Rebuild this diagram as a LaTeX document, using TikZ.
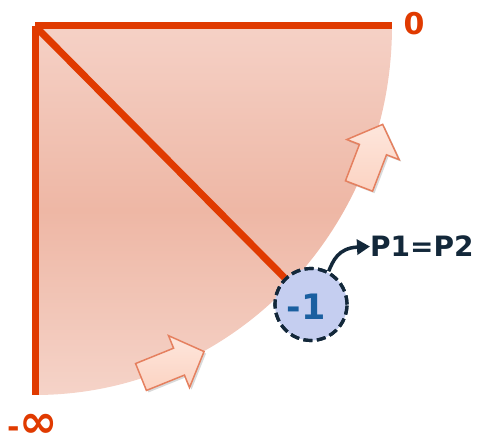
\documentclass[tikz,border=0pt]{standalone}
\usepackage{fontspec}
\setmainfont{DejaVu Sans}
\usetikzlibrary{shadows,arrows.meta}
\definecolor{lineor}{HTML}{E03A00}
\definecolor{fillA}{HTML}{F5D1C6}
\definecolor{fillB}{HTML}{EEB7A5}
\definecolor{fillC}{HTML}{F5D3C8}
\definecolor{circfill}{HTML}{C5CEF0}
\definecolor{circline}{HTML}{13283A}
\definecolor{numblue}{HTML}{1A5FA0}
\definecolor{arrline}{HTML}{E5805F}
\definecolor{arrA}{HTML}{FCD3C2}
\definecolor{arrB}{HTML}{FDE6DC}
\tikzset{
  axis/.style={draw=lineor,line width=7pt},
  blockarrow/.style={draw=arrline,line width=1.5pt,line join=miter,top color=arrB,bottom color=arrA,
    drop shadow={shadow xshift=2pt,shadow yshift=-2pt,opacity=0.25,fill=black!60}},
  labeltxt/.style={font=\bfseries,inner sep=0pt},
  dashcirc/.style={circle,minimum size=72pt,inner sep=0pt,draw=circline,line width=3.2pt,dash pattern=on 9pt off 4.5pt}
}
\begin{document}
\begin{tikzpicture}[x=1pt,y=1pt]
\useasboundingbox (0,0) rectangle (477,441);
\coordinate (C) at (35,415);
\coordinate (T) at (392,415);
\coordinate (L) at (35,46);
% quarter fill
\shade[top color=fillA,bottom color=fillC,middle color=fillB]
  (C) -- (T) arc[start angle=0,end angle=-90,x radius=357,y radius=369] -- cycle;
% block arrows
\begin{scope}[shift={(141,64)},rotate=22]
  \path[blockarrow] (0,-14.5) -- (41,-14.5) -- (41,-28) -- (68,0) -- (41,28) -- (41,14.5) -- (0,14.5) -- cycle;
\end{scope}
\begin{scope}[shift={(359,255)},rotate=69]
  \path[blockarrow] (0,-14.5) -- (39,-14.5) -- (39,-28) -- (66,0) -- (39,28) -- (39,14.5) -- (0,14.5) -- cycle;
\end{scope}
% circle node
\node[dashcirc,fill=circfill] (m) at (311,136.5) {};
\node[labeltxt,text=numblue,font=\bfseries\fontsize{35}{35}\selectfont] (mt) at (306,134) {-1};
% axes
\draw[axis] (C) -- (T);
\draw[axis] (C) -- (L);
\draw[axis] (C) -- (m);
% labels
\node[labeltxt,text=lineor,font=\bfseries\fontsize{30}{30}\selectfont] (zero) at (414,417) {0};
\node[labeltxt,text=lineor,font=\bfseries\fontsize{30}{30}\selectfont,anchor=base west] (minf) at (7,3.5) {-{\fontsize{46}{46}\selectfont ∞}};
\node[labeltxt,anchor=west,text=circline,font=\bfseries\fontsize{28}{28}\selectfont] (p) at (370,194.5) {P1=P2};
\draw[circline,line width=3.5pt,-{Triangle[length=13pt,width=15pt]}] (m.62) .. controls (333,180) and (338,193) .. (p.west);
% redraw circle outline over the line end
\node[dashcirc] at (m) {};
\end{tikzpicture}
\end{document}
